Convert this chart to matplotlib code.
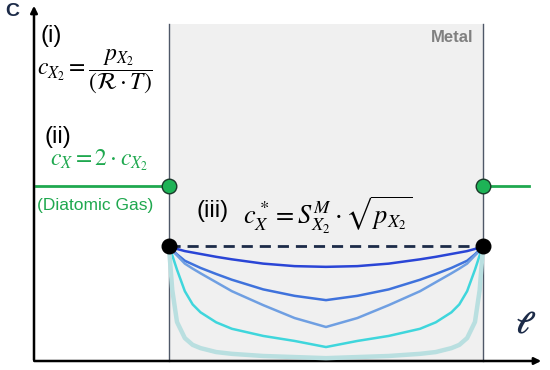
import numpy as np
import matplotlib.pyplot as plt
from matplotlib.patches import Rectangle

plt.rcParams['mathtext.fontset'] = 'stix'

# geometry of the sketch (arbitrary units)
metal_left, metal_right, metal_top = 2.65, 8.80, 9.41
gas_level = 4.89          # c_X in the gas
surface_level = 3.20      # c_X* at the metal surface
gas_right_end = 9.70

# half profiles across the metal (s = fraction of the thickness), mirrored later
s_half = [0.0, 0.005, 0.01, 0.025, 0.05, 0.075, 0.1, 0.15, 0.2, 0.3, 0.4, 0.5]
profiles = [
    [3.20, 3.19, 3.17, 3.13, 3.07, 3.03, 2.99, 2.91, 2.84, 2.72, 2.65, 2.63],
    [3.20, 3.15, 3.11, 2.98, 2.80, 2.70, 2.60, 2.43, 2.27, 2.00, 1.82, 1.70],
    [3.20, 3.13, 3.08, 2.95, 2.72, 2.58, 2.45, 2.20, 1.95, 1.56, 1.20, 0.95],
    [3.20, 3.06, 2.95, 2.55, 1.95, 1.58, 1.36, 1.08, 0.90, 0.70, 0.56, 0.39],
    [3.10, 2.55, 1.98, 1.09, 0.64, 0.45, 0.36, 0.25, 0.20, 0.14, 0.11, 0.08],
]
profile_colors = ['#2a45d6', '#3f72dc', '#6f9fe2', '#3fd6dc', '#b9dfe0']
profile_widths = [1.8, 1.8, 1.8, 1.8, 3.2]

fig = plt.figure(figsize=(5.5, 3.7), dpi=100)
ax = fig.add_axes([0, 0, 1, 1])
ax.set_xlim(-34 / 51, 516 / 51)
ax.set_ylim(-9 / 35.8, 361 / 35.8)
ax.axis('off')

# metal slab
ax.add_patch(Rectangle((metal_left, 0), metal_right - metal_left, metal_top,
                       facecolor='#f0f0f0', edgecolor='none', zorder=0))
for xe in (metal_left, metal_right):
    ax.plot([xe, xe], [0, metal_top], color='#4f5868', lw=1.0, zorder=1)

# axes with arrows
ax.annotate('', xy=(0, 10.0), xytext=(0, -0.05),
            arrowprops=dict(arrowstyle='-|>', color='black', lw=1.8, mutation_scale=10))
ax.annotate('', xy=(10.0, 0), xytext=(-0.05, 0),
            arrowprops=dict(arrowstyle='-|>', color='black', lw=1.8, mutation_scale=10))

# gas phase
green = '#1fa84f'
ax.plot([0.03, metal_left], [gas_level, gas_level], color=green, lw=2, zorder=2)
ax.plot([metal_right, gas_right_end], [gas_level, gas_level], color=green, lw=2, zorder=2)
ax.scatter([metal_left, metal_right], [gas_level, gas_level], s=110, color='#1db356',
           edgecolor='#1a3a2a', linewidth=1.0, zorder=5)

# concentration profiles inside the metal
s_full = np.array(s_half + [1 - v for v in s_half[::-1][1:]])
for vals, col, lw in zip(profiles, profile_colors, profile_widths):
    c_full = np.array(vals + vals[::-1][1:])
    x = metal_left + s_full * (metal_right - metal_left)
    ax.plot(x, c_full, color=col, lw=lw, zorder=3, solid_capstyle='round',
            solid_joinstyle='round')

# surface concentration
ax.plot([metal_left, metal_right], [surface_level, surface_level], color='#1c2b48',
        lw=2, dashes=(4, 2.5), zorder=4)
ax.scatter([metal_left, metal_right], [surface_level, surface_level], s=110,
           color='black', zorder=6)

# labels
navy = '#1c2b48'
ax.text(-0.43, 9.75, 'C', fontsize=14, fontweight='bold', color=navy,
        ha='center', va='center', family='Liberation Sans')
ax.text(9.63, 1.0, r'$\boldsymbol{\ell}$', fontsize=22, color=navy, ha='center', va='center')
ax.text(8.61, 9.05, 'Metal', fontsize=12, fontweight='bold', color='#808080',
        ha='right', va='center', family='Liberation Sans')

ax.text(0.12, 9.08, '(i)', fontsize=17, ha='left', va='center', family='Liberation Sans')
ax.text(0.06, 8.07, r'$c_{X_2} = \dfrac{p_{X_2}}{(\mathcal{R}\cdot T)}$', fontsize=17,
        ha='left', va='center')
ax.text(0.2, 6.26, '(ii)', fontsize=17, ha='left', va='center', family='Liberation Sans')
ax.text(0.31, 5.61, r'$c_X = 2\cdot c_{X_2}$', fontsize=17, color=green,
        ha='left', va='center')
ax.text(0.06, 4.33, '(Diatomic Gas)', fontsize=12.5, color=green,
        ha='left', va='center', family='Liberation Sans')
ax.text(3.18, 4.19, '(iii)', fontsize=17, ha='left', va='center', family='Liberation Sans')
ax.text(4.1, 4.08, r'$c_X^* = S_{X_2}^M\cdot\sqrt{p_{X_2}}$', fontsize=19,
        ha='left', va='center')

plt.savefig('out.png', dpi=100)
